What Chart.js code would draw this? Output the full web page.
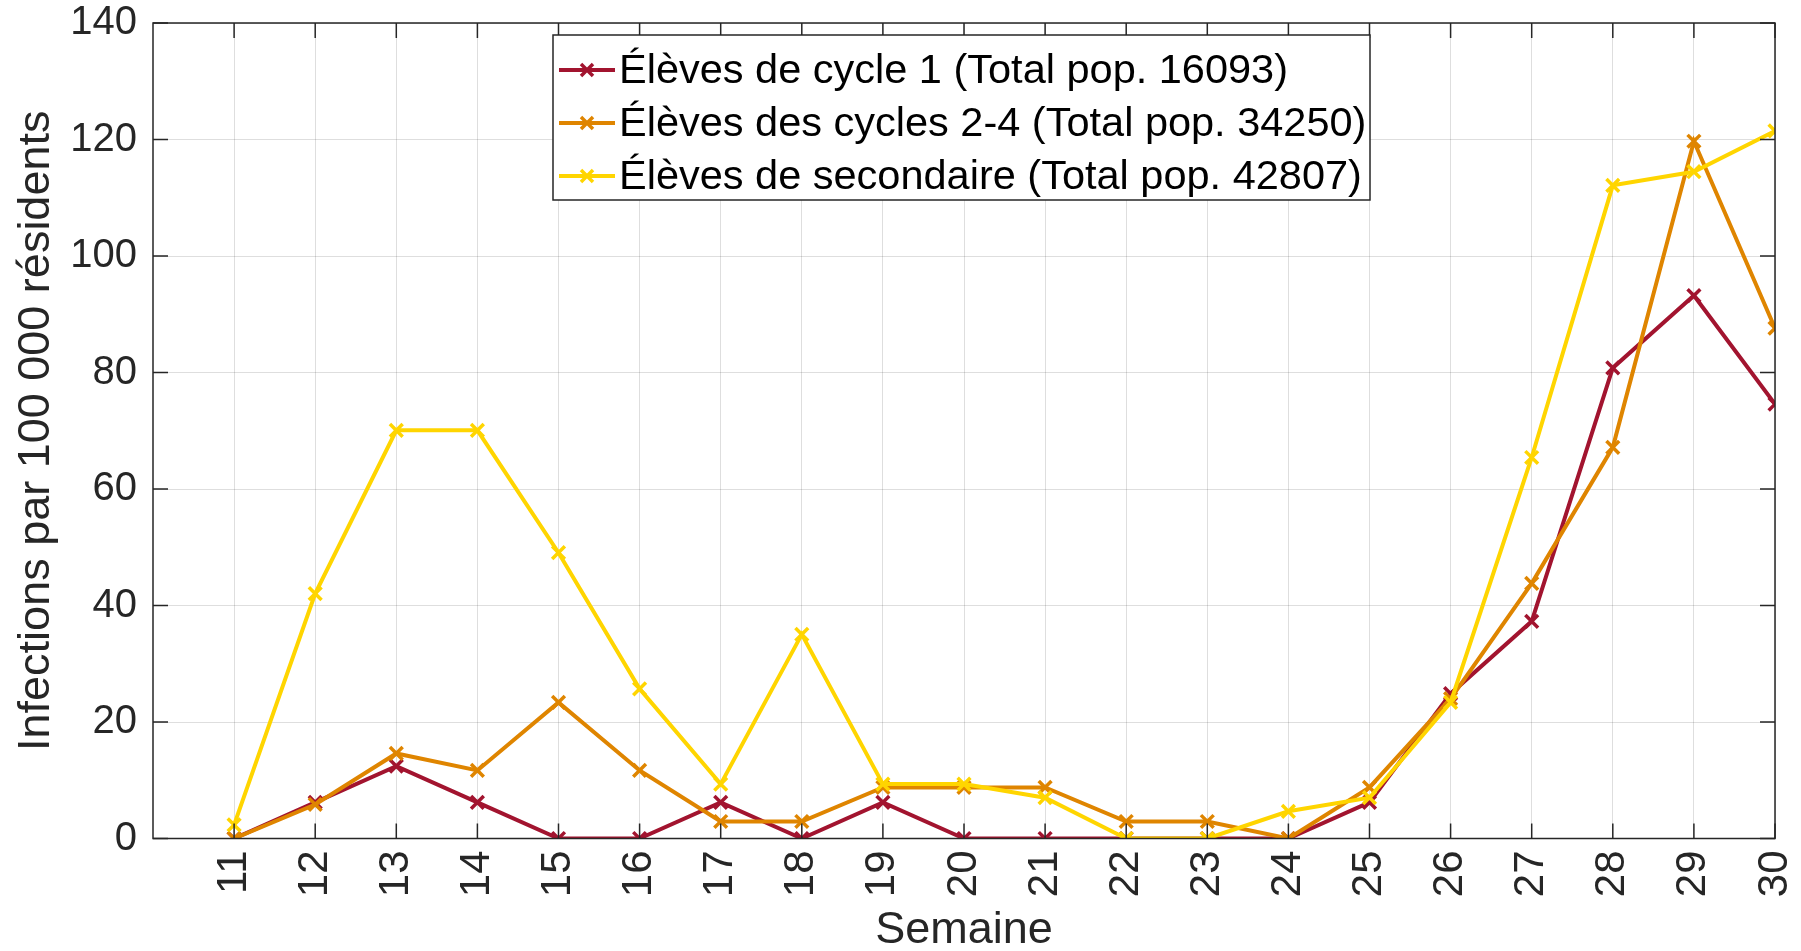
<!DOCTYPE html>
<html>
<head>
<meta charset="utf-8">
<script src="https://cdn.jsdelivr.net/npm/chart.js@4.4.1/dist/chart.umd.min.js"></script>
<style>
  html, body { margin: 0; padding: 0; background: #ffffff; }
  #wrap { width: 1801px; height: 951px; }
</style>
</head>
<body>
<div id="wrap"><canvas id="chart" width="1801" height="951"></canvas></div>
<script>
// Weeks and infections per 100 000 residents
const weeks = [11, 12, 13, 14, 15, 16, 17, 18, 19, 20, 21, 22, 23, 24, 25, 26, 27, 28, 29, 30];
const cycle1 = [0, 6.21, 12.43, 6.21, 0, 0, 6.21, 0, 6.21, 0, 0, 0, 0, 0, 6.21, 24.86, 37.28, 80.78, 93.21, 74.57];
const cycles24 = [0, 5.84, 14.6, 11.68, 23.36, 11.68, 2.92, 2.92, 8.76, 8.76, 8.76, 2.92, 2.92, 0, 8.76, 24.0, 43.8, 67.15, 119.7, 87.6];
const secondaire = [2.34, 42.05, 70.08, 70.08, 49.06, 25.7, 9.34, 35.04, 9.34, 9.34, 7.0, 0, 0, 4.67, 7.0, 23.36, 65.41, 112.13, 114.47, 121.47];
const seriesLabels = [
  "Élèves de cycle 1 (Total pop. 16093)",
  "Élèves des cycles 2-4 (Total pop. 34250)",
  "Élèves de secondaire (Total pop. 42807)"
];
const seriesColors = ["#A2142F", "#DF8500", "#FFD500"];
const yTicks = [0, 20, 40, 60, 80, 100, 120, 140];

const FONT = "'Liberation Sans', Arial, sans-serif";
const AXIS_COLOR = "#262626";

function makeDataset(idx, values) {
  return {
    label: seriesLabels[idx],
    data: weeks.map((w, i) => ({ x: w, y: values[i] })),
    borderColor: seriesColors[idx],
    backgroundColor: seriesColors[idx],
    borderWidth: 4,
    pointStyle: "crossRot",
    pointRadius: 9,
    pointBorderWidth: 3.5,
    pointHoverRadius: 9,
    tension: 0,
    order: 3 - idx,
  };
}

// box around the plot, inward tick marks, legend inside the axes
const axesDecor = {
  id: "axesDecor",
  afterDatasetsDraw(chart) {
    const { ctx, chartArea: a, scales } = chart;
    ctx.save();
    ctx.strokeStyle = AXIS_COLOR;
    ctx.lineWidth = 1.5;
    const tl = 15;
    ctx.beginPath();
    scales.x.ticks.forEach(t => {
      const px = scales.x.getPixelForValue(t.value);
      ctx.moveTo(px, a.bottom); ctx.lineTo(px, a.bottom - tl);
      ctx.moveTo(px, a.top); ctx.lineTo(px, a.top + tl);
    });
    scales.y.ticks.forEach(t => {
      const py = scales.y.getPixelForValue(t.value);
      ctx.moveTo(a.left, py); ctx.lineTo(a.left + tl, py);
      ctx.moveTo(a.right, py); ctx.lineTo(a.right - tl, py);
    });
    ctx.stroke();
    ctx.strokeRect(a.left, a.top, a.right - a.left, a.bottom - a.top);

    // legend
    const bx = 553, by = 35, bw = 817, bh = 165;
    ctx.fillStyle = "#ffffff";
    ctx.fillRect(bx, by, bw, bh);
    ctx.strokeStyle = "#262626";
    ctx.lineWidth = 1.5;
    ctx.strokeRect(bx, by, bw, bh);
    ctx.font = "41.5px " + FONT;
    ctx.textBaseline = "middle";
    ctx.textAlign = "left";
    chart.data.datasets.forEach((ds, i) => {
      const ry = by + 35 + i * 53;
      ctx.strokeStyle = ds.borderColor;
      ctx.lineWidth = 4;
      ctx.beginPath();
      ctx.moveTo(bx + 6, ry); ctx.lineTo(bx + 62, ry);
      ctx.stroke();
      ctx.lineWidth = 3.5;
      const mx = bx + 34, r = 6;
      ctx.beginPath();
      ctx.moveTo(mx - r, ry - r); ctx.lineTo(mx + r, ry + r);
      ctx.moveTo(mx + r, ry - r); ctx.lineTo(mx - r, ry + r);
      ctx.stroke();
      ctx.fillStyle = "#000000";
      ctx.fillText(ds.label, bx + 66, ry + 2);
    });
    ctx.restore();
  }
};

new Chart(document.getElementById("chart"), {
  type: "line",
  data: {
    datasets: [
      makeDataset(0, cycle1),
      makeDataset(1, cycles24),
      makeDataset(2, secondaire),
    ],
  },
  options: {
    responsive: false,
    animation: false,
    layout: { padding: { top: 23, right: 26, left: 0, bottom: 0 } },
    plugins: {
      legend: { display: false },
      tooltip: { enabled: false },
    },
    scales: {
      x: {
        type: "linear",
        min: 10,
        max: 30,
        afterBuildTicks: s => { s.ticks = weeks.map(w => ({ value: w })); },
        afterFit: s => {
          s.height = 112.5;
          s.paddingLeft = 0;
          s.paddingRight = 0;
        },
        grid: { color: "rgba(0,0,0,0.13)", lineWidth: 1, drawTicks: false },
        border: { display: false },
        ticks: {
          color: AXIS_COLOR,
          font: { family: FONT, size: 42 },
          maxRotation: 90,
          minRotation: 90,
          padding: 12,
          autoSkip: false,
        },
        title: {
          display: true,
          text: "Semaine",
          color: AXIS_COLOR,
          font: { family: FONT, size: 45 },
          padding: { top: 0, bottom: -7 },
        },
      },
      y: {
        min: 0,
        max: 140,
        afterBuildTicks: s => { s.ticks = yTicks.map(v => ({ value: v })); },
        afterFit: s => {
          s.width = 153;
          s.paddingTop = 0;
          s.paddingBottom = 0;
        },
        grid: { color: "rgba(0,0,0,0.13)", lineWidth: 1, drawTicks: false },
        border: { display: false },
        ticks: {
          color: AXIS_COLOR,
          font: { family: FONT, size: 40 },
          padding: 16,
        },
        title: {
          display: true,
          text: "Infections par 100 000 résidents",
          color: AXIS_COLOR,
          font: { family: FONT, size: 45 },
          padding: { top: 10, bottom: 0 },
        },
      },
    },
  },
  plugins: [axesDecor],
});
</script>
</body>
</html>
